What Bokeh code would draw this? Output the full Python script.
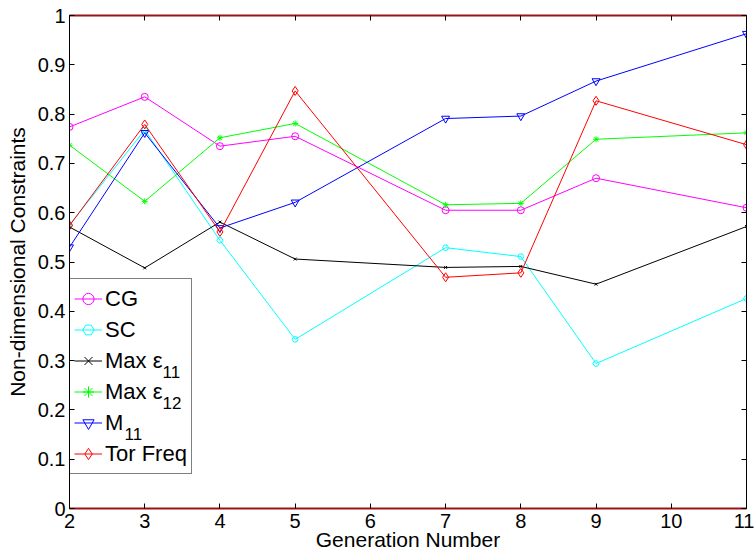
from bokeh.plotting import figure
from bokeh.models import (Legend, LegendItem, LinearAxis, FixedTicker, Label, Range1d,
                          CustomLabelingPolicy)
from bokeh.embed import file_html
from bokeh.resources import INLINE

# ---- data ----
generations = [2, 3, 4, 5, 7, 8, 9, 11]
cg = [0.774, 0.835, 0.735, 0.755, 0.605, 0.605, 0.670, 0.610]
sc = [0.575, 0.768, 0.544, 0.343, 0.529, 0.511, 0.294, 0.426]
max_e11 = [0.571, 0.488, 0.581, 0.506, 0.489, 0.491, 0.455, 0.572]
max_e12 = [0.737, 0.623, 0.752, 0.781, 0.616, 0.619, 0.749, 0.762]
m11 = [0.530, 0.762, 0.569, 0.621, 0.791, 0.796, 0.867, 0.963]
tor_freq = [0.574, 0.779, 0.561, 0.847, 0.469, 0.478, 0.827, 0.738]

series_labels = ["CG", "SC", "Max \u03b5", "Max \u03b5", "M", "Tor Freq"]
series_subscripts = ["", "", "11", "12", "11", ""]

x_ticks = [2, 3, 4, 5, 6, 7, 8, 9, 10, 11]
y_ticks = [0, 0.1, 0.2, 0.3, 0.4, 0.5, 0.6, 0.7, 0.8, 0.9, 1]
y_tick_labels = ["0", "0.1", "0.2", "0.3", "0.4", "0.5", "0.6", "0.7", "0.8", "0.9", "1"]

FONT = "Liberation Sans"
AXIS_RED = "#971515"
B_LEFT, B_RIGHT, B_TOP, B_BOTTOM = 69, 8, 15, 48

p = figure(width=754, height=556, x_range=Range1d(2, 11), y_range=Range1d(0, 1),
           output_backend="svg", toolbar_location=None,
           min_border_left=B_LEFT, min_border_right=B_RIGHT,
           min_border_top=B_TOP, min_border_bottom=B_BOTTOM,
           background_fill_color="white", border_fill_color="white")
p.outline_line_color = None
p.grid.visible = False

HIDE_ALL = """
const all = [];
for (const i of indices) all.push(i);
for (const i of all) indices.unset(i);
return indices;
"""


def style_axis(ax, show_labels, line_color, line_width):
    ax.axis_line_color = line_color
    ax.axis_line_width = line_width
    ax.major_tick_in = 5
    ax.major_tick_out = 0
    ax.minor_tick_in = 0
    ax.minor_tick_out = 0
    ax.major_tick_line_color = "black"
    ax.major_label_text_font = FONT
    ax.major_label_text_color = "black"
    ax.axis_label_text_font = FONT
    ax.axis_label_text_font_style = "normal"
    ax.axis_label_text_color = "black"
    if show_labels:
        ax.major_label_text_font_size = "20px"
        ax.axis_label_text_font_size = "21px"
    else:
        ax.major_label_text_font_size = "1px"
        ax.major_label_standoff = 0
        ax.major_label_policy = CustomLabelingPolicy(code=HIDE_ALL)


xa = p.xaxis[0]
xa.ticker = FixedTicker(ticks=x_ticks)
style_axis(xa, True, AXIS_RED, 2)
xa.axis_label = "Generation Number"
xa.major_label_standoff = 5
xa.axis_label_standoff = -3

ya = p.yaxis[0]
ya.ticker = FixedTicker(ticks=y_ticks)
ya.major_label_overrides = {t: s for t, s in zip(y_ticks, y_tick_labels)}
style_axis(ya, True, "black", 1)
ya.axis_label = "Non-dimensional Constraints"
ya.major_label_standoff = 4
ya.axis_label_standoff = 6

top = LinearAxis(ticker=FixedTicker(ticks=x_ticks))
style_axis(top, False, AXIS_RED, 2)
p.add_layout(top, "above")

right = LinearAxis(ticker=FixedTicker(ticks=y_ticks))
style_axis(right, False, "black", 1)
p.add_layout(right, "right")

series = [
    (cg, "#ff00ff", "circle", 7),
    (sc, "#00ffff", "hex", 6),
    (max_e11, "#000000", "x", 4),
    (max_e12, "#00ff00", "asterisk", 6),
    (m11, "#0000ff", "inverted_triangle", 8),
    (tor_freq, "#ff0000", "diamond", 9),
]

items = []
for (vals, color, marker, size), lab in zip(series, series_labels):
    lr = p.line(generations, vals, line_color=color, line_width=1)
    sr = p.scatter(generations, vals, marker=marker, size=size, line_color=color,
                   fill_color=None, line_width=1)
    items.append(LegendItem(label=lab, renderers=[lr, sr]))

LEG_Y, LEG_PAD, ROW_H, GLYPH_W, STANDOFF = 34, 4, 31, 28, 3
legend = Legend(items=items, location=(0, LEG_Y), padding=LEG_PAD, spacing=0, margin=0,
                label_height=ROW_H, glyph_height=ROW_H, glyph_width=GLYPH_W,
                label_standoff=STANDOFF,
                border_line_color="black", border_line_width=1,
                background_fill_alpha=0,
                label_text_font=FONT, label_text_font_size="22px",
                label_text_color="black")
p.add_layout(legend)

# subscripts for the legend entries (screen units, relative to the plot frame)
n = len(series_labels)
main_widths = {"Max \u03b5": 57, "M": 19}
for i, (lab, sub) in enumerate(zip(series_labels, series_subscripts)):
    if not sub:
        continue
    row_center = LEG_Y + LEG_PAD + (n - 1 - i) * ROW_H + ROW_H / 2
    sx = LEG_PAD + GLYPH_W + STANDOFF + main_widths[lab] + 1
    p.add_layout(Label(x=sx, y=row_center - 10, x_units="screen", y_units="screen",
                       text=sub, text_font=FONT, text_font_size="17px",
                       text_baseline="middle", text_align="left", text_color="black"))

open("out.html", "w").write(file_html(p, INLINE))
